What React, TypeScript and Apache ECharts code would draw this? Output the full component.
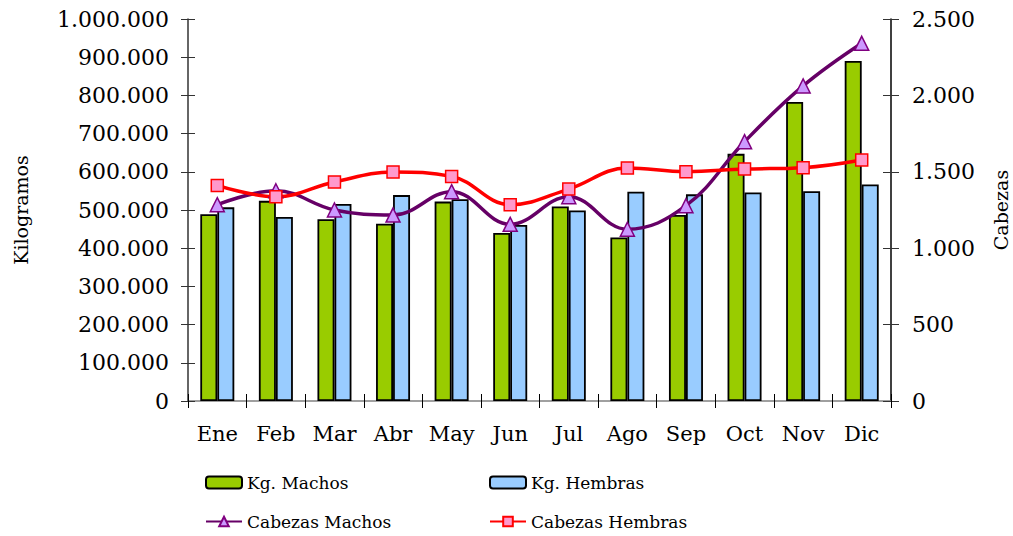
import React, { useEffect, useRef } from "react";
import * as echarts from "echarts";

const categories = ["Ene", "Feb", "Mar", "Abr", "May", "Jun", "Jul", "Ago", "Sep", "Oct", "Nov", "Dic"];
const kgMachos = [489000, 524000, 476000, 464000, 522000, 440000, 509000, 428000, 487000, 647000, 783000, 890000];
const kgHembras = [507000, 482000, 516000, 539000, 528000, 461000, 499000, 548000, 541000, 546000, 549000, 567000];
const cabezasMachos = [1285, 1376, 1250, 1217, 1370, 1156, 1337, 1124, 1278, 1697, 2062, 2341];
const cabezasHembras = [1411, 1337, 1433, 1499, 1470, 1285, 1387, 1525, 1501, 1518, 1527, 1577];

const FONT = "DejaVu Serif";
const fmt = (v: number) => String(Math.round(v)).replace(/\B(?=(\d{3})+(?!\d))/g, ".");

export default function App() {
  const ref = useRef<HTMLDivElement>(null);
  useEffect(() => {
    if (!ref.current) return;
    const chart = echarts.init(ref.current, undefined, { renderer: "svg" });
    const axisColor = "#000000";
    const legendText = { fontFamily: FONT, fontSize: 17, color: "#000" };
    const legendBase = { itemWidth: 36, itemHeight: 12, itemGap: 0, padding: 0, textStyle: legendText };
    chart.setOption({
      animation: false,
      backgroundColor: "#ffffff",
      grid: { left: 188, right: 122, top: 19, bottom: 135, containLabel: false, outerBoundsMode: "none" },
      legend: [
        { ...legendBase, data: ["Kg. Machos"], left: 205, top: 474 },
        { ...legendBase, data: ["Kg. Hembras"], left: 489, top: 474 },
        { ...legendBase, data: ["Cabezas Machos"], left: 205, top: 513 },
        { ...legendBase, data: ["Cabezas Hembras"], left: 489, top: 513 },
      ],
      xAxis: [
        {
          type: "category",
          data: categories,
          boundaryGap: true,
          axisLine: { lineStyle: { color: "#808080", width: 1.5 } },
          axisTick: { show: true, length: 7, inside: false, interval: 0, lineStyle: { color: axisColor } },
          axisLabel: { fontFamily: FONT, fontSize: 21, color: "#000", margin: 22, interval: 0, hideOverlap: false },
        },
        {
          type: "category",
          data: categories,
          position: "bottom",
          boundaryGap: true,
          axisLine: { show: false },
          axisTick: { show: true, length: 7, inside: true, interval: 0, lineStyle: { color: axisColor } },
          axisLabel: { show: false },
        },
      ],
      yAxis: [
        {
          type: "value",
          position: "left",
          min: 0,
          max: 1000000,
          interval: 100000,
          name: "Kilogramos",
          nameLocation: "middle",
          nameRotate: 90,
          nameGap: 158,
          nameTextStyle: { fontFamily: FONT, fontSize: 19, color: "#000" },
          axisLine: { show: true, lineStyle: { color: "#333", width: 1.5 } },
          axisTick: { show: true, length: 7, lineStyle: { color: "#333" } },
          axisLabel: { fontFamily: FONT, fontSize: 22, color: "#000", margin: 19, formatter: fmt },
          splitLine: { show: false },
        },
        {
          type: "value",
          position: "right",
          min: 0,
          max: 2500,
          interval: 500,
          name: "Cabezas",
          nameLocation: "middle",
          nameRotate: 90,
          nameGap: 100,
          nameTextStyle: { fontFamily: FONT, fontSize: 19, color: "#000" },
          axisLine: { show: true, lineStyle: { color: "#000", width: 1.5 } },
          axisTick: { show: true, length: 8, lineStyle: { color: "#333" } },
          axisLabel: { fontFamily: FONT, fontSize: 22, color: "#000", margin: 21, formatter: fmt },
          splitLine: { show: false },
        },
        {
          type: "value",
          position: "left",
          offset: 0,
          min: 0,
          max: 1000000,
          interval: 100000,
          axisLine: { show: false },
          axisTick: { show: true, inside: true, length: 7, lineStyle: { color: "#333" } },
          axisLabel: { show: false },
          splitLine: { show: false },
        },
        {
          type: "value",
          position: "right",
          offset: 0,
          min: 0,
          max: 2500,
          interval: 500,
          axisLine: { show: false },
          axisTick: { show: true, inside: true, length: 8, lineStyle: { color: "#333" } },
          axisLabel: { show: false },
          splitLine: { show: false },
        },
      ],
      series: [
        {
          name: "Kg. Machos",
          type: "bar",
          yAxisIndex: 0,
          data: kgMachos,
          barWidth: 17,
          barGap: "0%",
          itemStyle: { color: "#99CC00", borderColor: "#000", borderWidth: 1.8 },
        },
        {
          name: "Kg. Hembras",
          type: "bar",
          yAxisIndex: 0,
          data: kgHembras,
          barWidth: 17,
          barGap: "0%",
          itemStyle: { color: "#99CCFF", borderColor: "#000", borderWidth: 1.8 },
        },
        {
          name: "Cabezas Machos",
          type: "line",
          yAxisIndex: 1,
          data: cabezasMachos,
          smooth: 0.4,
          symbol: "triangle",
          symbolSize: 14,
          lineStyle: { color: "#660066", width: 3.5 },
          itemStyle: { color: "#CC99FF", borderColor: "#800080", borderWidth: 1.5 },
        },
        {
          name: "Cabezas Hembras",
          type: "line",
          yAxisIndex: 1,
          data: cabezasHembras,
          smooth: 0.4,
          symbol: "rect",
          symbolSize: 12,
          lineStyle: { color: "#FF0000", width: 3.5 },
          itemStyle: { color: "#FF99CC", borderColor: "#FF0000", borderWidth: 1.5 },
        },
      ],
    });
    return () => chart.dispose();
  }, []);
  return (
    <div
      ref={ref}
      style={{ position: "absolute", left: 0, top: 0, width: 1013, height: 536, background: "#fff" }}
    />
  );
}
